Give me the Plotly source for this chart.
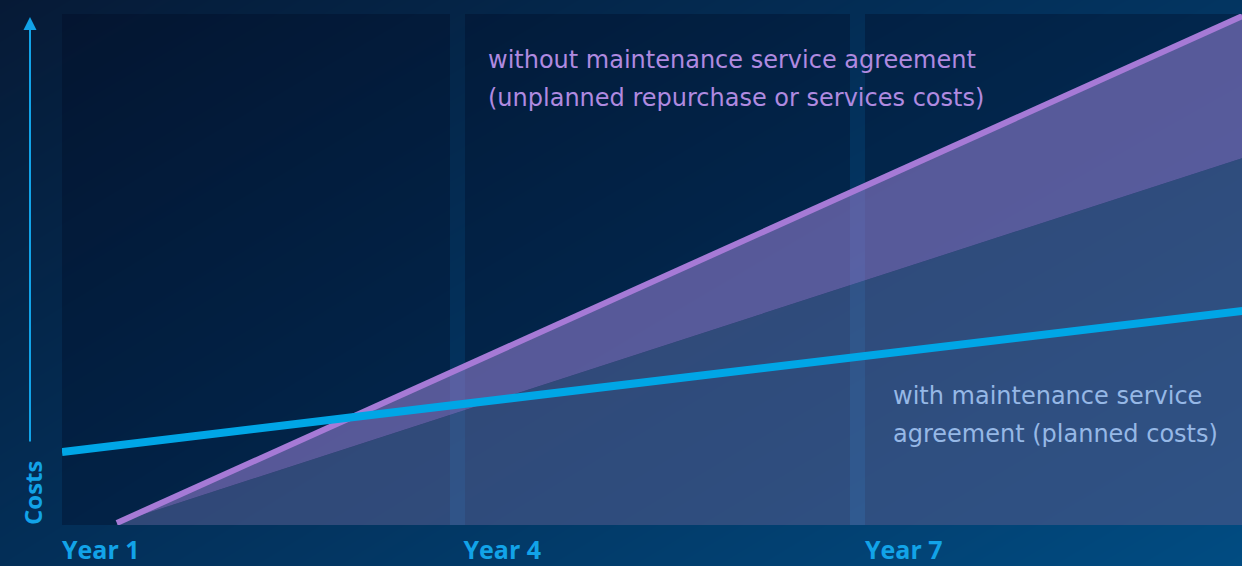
import plotly.graph_objects as go

# ---- data ----
year_ticks = [1, 4, 7]
year_labels = ["Year 1", "Year 4", "Year 7"]

years_with = [1, 4, 7, 9.82]
costs_with = [14.3, 23.7, 33.1, 41.9]          # with maintenance service agreement

years_without = [1.41, 4, 7, 9.82]
costs_without_high = [0.4, 31.0, 66.5, 99.6]   # without agreement (upper bound)
costs_without_low = [0.4, 22.4, 47.9, 71.8]    # lower bound of the uncertainty band

W, H = 1242, 566
def px(x):
    return x / W
def py(y):
    return 1 - y / H

TEXT_FONT = "DejaVu Sans"

fig = go.Figure()

# background gradient (full paper) on xy
fig.add_trace(go.Heatmap(
    z=[[0.42, 1.0], [0.0, 0.55]], x=[0, 1], y=[0, 1],
    zsmooth="best", showscale=False, hoverinfo="skip",
    colorscale=[[0, "#061a36"], [0.45, "#03305a"], [1, "#014c82"]],
    zmin=0, zmax=1, xaxis="x", yaxis="y"))

# main chart on x2/y2
fig.add_trace(go.Scatter(
    x=years_without, y=costs_without_low, mode="lines", line=dict(width=0),
    fill="tozeroy", fillcolor="rgba(110,122,182,0.43)", hoverinfo="skip",
    showlegend=False, xaxis="x2", yaxis="y2"))
fig.add_trace(go.Scatter(
    x=years_without, y=costs_without_high, mode="lines", line=dict(width=0),
    fill="tonexty", fillcolor="rgba(150,128,210,0.58)", hoverinfo="skip",
    showlegend=False, xaxis="x2", yaxis="y2"))
fig.add_trace(go.Scatter(
    x=years_without, y=costs_without_high, mode="lines",
    line=dict(width=6, color="#a67ad6"), showlegend=False,
    xaxis="x2", yaxis="y2"))
fig.add_trace(go.Scatter(
    x=years_with, y=costs_with, mode="lines",
    line=dict(width=8, color="#00a6e6"), showlegend=False,
    xaxis="x2", yaxis="y2"))

x_end = 1 + 1180 / 133.83

# dark panels (below traces of x2y2 subplot)
panels = [(62, 450), (465, 850), (865, 1242)]
shapes = []
for a, b in panels:
    shapes.append(dict(type="rect", xref="x2", yref="y2",
                       x0=1 + (a - 62) / 133.83, x1=1 + (b - 62) / 133.83,
                       y0=0, y1=100, layer="below", line=dict(width=0),
                       fillcolor="rgba(0,10,32,0.33)"))

annotations = [
    dict(x=px(30), y=py(17), xref="paper", yref="paper", text="",
         showarrow=True, ax=0, ay=426, arrowhead=2, arrowsize=1.3,
         arrowwidth=2, arrowcolor="#12a3e8", standoff=0),
    dict(x=px(32), y=py(493), xref="paper", yref="paper", text="Costs",
         textangle=-90, showarrow=False, xanchor="center", yanchor="middle",
         font=dict(family="Open Sans", size=24, color="#12a3e8", weight="bold")),
    dict(x=px(486), y=py(60), xref="paper", yref="paper", xanchor="left",
         yanchor="middle",
         text="without maintenance service agreement", showarrow=False,
         font=dict(family=TEXT_FONT, size=24, color="#b08ae0")),
    dict(x=px(486), y=py(98), xref="paper", yref="paper", xanchor="left",
         yanchor="middle",
         text="(unplanned repurchase or services costs)", showarrow=False,
         font=dict(family=TEXT_FONT, size=24, color="#b08ae0")),
    dict(x=px(891), y=py(396), xref="paper", yref="paper", xanchor="left",
         yanchor="middle",
         text="with maintenance service", showarrow=False,
         font=dict(family=TEXT_FONT, size=24, color="#96b8e6")),
    dict(x=px(891), y=py(434), xref="paper", yref="paper", xanchor="left",
         yanchor="middle",
         text="agreement (planned costs)", showarrow=False,
         font=dict(family=TEXT_FONT, size=24, color="#96b8e6")),
]

fig.update_layout(
    width=W, height=H,
    margin=dict(l=0, r=0, t=0, b=0, autoexpand=False),
    paper_bgcolor="#03284d", plot_bgcolor="rgba(0,0,0,0)",
    showlegend=False,
    xaxis=dict(domain=[0, 1], range=[0, 1], visible=False, fixedrange=True),
    yaxis=dict(domain=[0, 1], range=[0, 1], visible=False, fixedrange=True),
    xaxis2=dict(domain=[px(62), 1], range=[1, x_end], anchor="y2",
                tickvals=year_ticks, ticktext=year_labels,
                ticklabelposition="outside right", ticks="",
                showgrid=False, zeroline=False, showline=False,
                automargin=False, ticklabelstandoff=8,
                tickfont=dict(family="Open Sans", size=25, color="#12a3e8", weight="bold")),
    yaxis2=dict(domain=[1 - 525 / H, 1 - 14 / H], range=[0, 100], anchor="x2",
                visible=False, showgrid=False, zeroline=False, automargin=False),
    shapes=shapes,
    annotations=annotations,
)

fig.write_html("out.html", config={"displayModeBar": False},
               post_script="document.body.style.margin='0';document.body.style.overflow='hidden';")
